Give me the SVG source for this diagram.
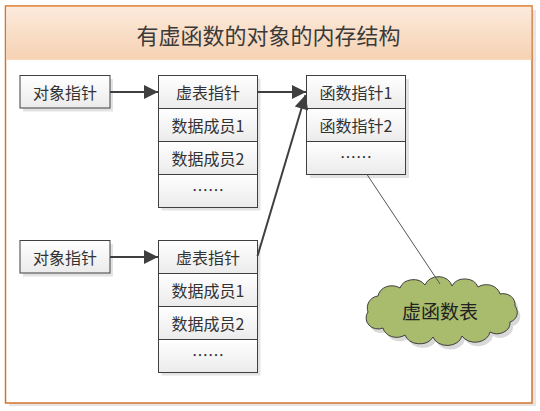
<svg xmlns="http://www.w3.org/2000/svg" width="540" height="411" viewBox="0 0 540 411">
<defs>
<linearGradient id="hdr" x1="0" y1="0" x2="0" y2="1">
<stop offset="0" stop-color="#FCEADC"/>
<stop offset="1" stop-color="#F6D2B2"/>
</linearGradient>
<linearGradient id="cell" x1="0" y1="0" x2="0" y2="1">
<stop offset="0" stop-color="#FFFFFF"/>
<stop offset="1" stop-color="#EBEBEB"/>
</linearGradient>
<marker id="arr" viewBox="0 0 10 10" refX="10" refY="5" markerWidth="17" markerHeight="14" markerUnits="userSpaceOnUse" orient="auto">
<path d="M0,0 L10,5 L0,10 Z" fill="#3F3F3F"/>
</marker>
</defs>
<style>
.cell{fill:url(#cell);stroke:#3F3F3F;stroke-width:1}
.sh{fill:#E3E3E3}
.t{font-family:"Noto Sans CJK SC","Noto Sans",sans-serif;font-size:16px;fill:#333;text-anchor:middle;dominant-baseline:central}
.con{stroke:#3F3F3F;stroke-width:2;fill:none}
</style>
<rect width="540" height="411" fill="#FFFFFF"/>
<g id="frame">
<rect x="9" y="10" width="527" height="396" fill="#E6E6E6"/>
<rect x="5.5" y="6" width="526.5" height="397" fill="#FFFFFF" stroke="#D4732A" stroke-width="1.5"/>
<rect x="6.3" y="6.8" width="525" height="53" fill="url(#hdr)"/>
<line x1="6" y1="6.5" x2="531.5" y2="6.5" stroke="#EDA46C" stroke-width="1.2"/>
<text x="268.5" y="33.5" font-family="Noto Sans CJK SC,sans-serif" font-size="22" fill="#3A3A3A" text-anchor="middle" dominant-baseline="central">有虚函数的对象的内存结构</text>
</g>
<g id="objptr1">
<rect class="sh" x="23" y="79" width="90" height="32.5"/>
<rect class="cell" x="20" y="75.5" width="90" height="32.5"/>
<text class="t" x="65" y="92">对象指针</text>
</g>
<g id="obj1">
<rect class="sh" x="161.5" y="78.5" width="99" height="132"/>
<rect class="cell" x="158.5" y="75.5" width="99" height="33"/>
<rect class="cell" x="158.5" y="108.5" width="99" height="33"/>
<rect class="cell" x="158.5" y="141.5" width="99" height="33"/>
<rect class="cell" x="158.5" y="174.5" width="99" height="33"/>
<text class="t" x="208" y="92">虚表指针</text>
<text class="t" x="208" y="125">数据成员1</text>
<text class="t" x="208" y="158">数据成员2</text>
<text class="t" x="208" y="189">……</text>
</g>
<g id="vtable">
<rect class="sh" x="310" y="79" width="99" height="99"/>
<rect class="cell" x="306.5" y="75.5" width="99" height="33"/>
<rect class="cell" x="306.5" y="108.5" width="99" height="33"/>
<rect class="cell" x="306.5" y="141.5" width="99" height="33"/>
<text class="t" x="356" y="92">函数指针1</text>
<text class="t" x="356" y="125">函数指针2</text>
<text class="t" x="356" y="156">……</text>
</g>
<g id="objptr2">
<rect class="sh" x="23" y="244" width="90" height="32.5"/>
<rect class="cell" x="20" y="240.5" width="90" height="32.5"/>
<text class="t" x="65" y="257">对象指针</text>
</g>
<g id="obj2">
<rect class="sh" x="161.5" y="243.5" width="99" height="132"/>
<rect class="cell" x="158.5" y="240.5" width="99" height="33"/>
<rect class="cell" x="158.5" y="273.5" width="99" height="33"/>
<rect class="cell" x="158.5" y="306.5" width="99" height="33"/>
<rect class="cell" x="158.5" y="339.5" width="99" height="33"/>
<text class="t" x="208" y="257">虚表指针</text>
<text class="t" x="208" y="290">数据成员1</text>
<text class="t" x="208" y="323">数据成员2</text>
<text class="t" x="208" y="354">……</text>
</g>
<g id="cloud">
<path transform="translate(3,4)" fill="#D9D9D9" d="M368,312 A12,12 0 0 1 378,296 A14,12 0 0 1 400,288 A14,12 0 0 1 425,285 A14,12 0 0 1 452,286 A14,12 0 0 1 478,287 A14,12 0 0 1 500,294 A12,11 0 0 1 515,306 A10,10 0 0 1 510,322 A13,11 0 0 1 490,332 A15,12 0 0 1 462,336 A15,12 0 0 1 433,337 A15,12 0 0 1 405,335 A14,12 0 0 1 383,328 A12,11 0 0 1 368,312 Z"/>
<path fill="#A9BB6C" stroke="#3F3F3F" stroke-width="1" d="M368,312 A12,12 0 0 1 378,296 A14,12 0 0 1 400,288 A14,12 0 0 1 425,285 A14,12 0 0 1 452,286 A14,12 0 0 1 478,287 A14,12 0 0 1 500,294 A12,11 0 0 1 515,306 A10,10 0 0 1 510,322 A13,11 0 0 1 490,332 A15,12 0 0 1 462,336 A15,12 0 0 1 433,337 A15,12 0 0 1 405,335 A14,12 0 0 1 383,328 A12,11 0 0 1 368,312 Z"/>
<text x="440" y="310" font-family="Noto Sans CJK SC,sans-serif" font-size="19" fill="#222" text-anchor="middle" dominant-baseline="central">虚函数表</text>
</g>
<g id="connectors">
<line class="con" x1="110" y1="92" x2="158" y2="92" marker-end="url(#arr)"/>
<line class="con" x1="110" y1="257" x2="158" y2="257" marker-end="url(#arr)"/>
<line class="con" x1="257.5" y1="92" x2="306" y2="92" marker-end="url(#arr)"/>
<line class="con" x1="257.5" y1="256" x2="305.5" y2="95" marker-end="url(#arr)"/>
<line x1="367" y1="174.5" x2="440" y2="284" stroke="#555" stroke-width="1"/>
</g>
</svg>
